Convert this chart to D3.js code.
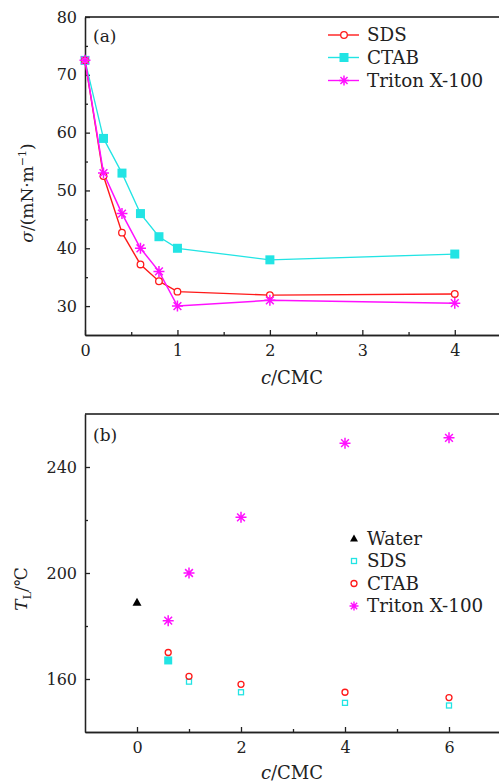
<!DOCTYPE html>
<html>
<head>
<meta charset="utf-8">
<script src="https://cdn.jsdelivr.net/npm/d3@7"></script>
<style>
  body { margin: 0; background: #fff; }
  svg { display: block; font-family: "DejaVu Serif", serif; }
  .axis text { font-family: "DejaVu Serif", serif; font-size: 16px; fill: #222; }
  .axis path, .axis line { stroke: #222; stroke-width: 1.3; }
</style>
</head>
<body>
<div id="chart"></div>
<script>
// panel (a): surface tension vs c/CMC
const concA = [0, 0.2, 0.4, 0.6, 0.8, 1, 2, 4];
const sdsA = [72.5, 52.5, 42.7, 37.2, 34.3, 32.5, 31.9, 32.1];
const ctabA = [72.5, 59, 53, 46, 42, 40, 38, 39];
const tritonA = [72.5, 53, 46, 40, 36, 30, 31, 30.5];
const xTicksA = [0, 1, 2, 3, 4];
const yTicksA = [30, 40, 50, 60, 70, 80];

// panel (b): T_L vs c/CMC
const waterX = [0];
const waterB = [189];
const concB = [0.6, 1, 2, 4, 6];
const sdsB = [167, 159, 155, 151, 150];
const ctabB = [170, 161, 158, 155, 153];
const tritonB = [182, 200, 221, 249, 251];
const xTicksB = [0, 2, 4, 6];
const yTicksB = [160, 200, 240];

const RED = '#ff1a1a';
const CYAN = '#22e4e4';
const MAGENTA = '#ff10ff';

const W = 499, H = 784;
const LEFT = 85, RIGHT = 501;

const svg = d3.select('#chart').append('svg').attr('width', W).attr('height', H);

function star(g, x, y, r, color, sw) {
  const d = r * Math.SQRT1_2;
  const p = `M${x - r},${y}L${x + r},${y}M${x},${y - r}L${x},${y + r}` +
    `M${x - d},${y - d}L${x + d},${y + d}M${x - d},${y + d}L${x + d},${y - d}`;
  g.append('path').attr('d', p).attr('stroke', color).attr('stroke-width', sw || 1.5).attr('fill', 'none');
}

function frame(g, x, y, top, bottom, xTicks, xMinor, yTicks, yMinor) {
  g.append('line').attr('x1', LEFT).attr('x2', RIGHT).attr('y1', top).attr('y2', top)
    .attr('stroke', '#111').attr('stroke-width', 1.5);
  g.append('line').attr('x1', RIGHT).attr('x2', RIGHT).attr('y1', top).attr('y2', bottom)
    .attr('stroke', '#111').attr('stroke-width', 1.5);

  g.append('g').attr('class', 'axis').attr('transform', `translate(0,${bottom})`)
    .call(d3.axisBottom(x).tickValues(xMinor).tickFormat('').tickSizeInner(-3).tickSizeOuter(0));
  g.append('g').attr('class', 'axis').attr('transform', `translate(0,${bottom})`)
    .call(d3.axisBottom(x).tickValues(xTicks).tickFormat(d3.format('d')).tickSizeInner(-5).tickSizeOuter(0).tickPadding(10));
  g.append('g').attr('class', 'axis').attr('transform', `translate(${LEFT},0)`)
    .call(d3.axisLeft(y).tickValues(yMinor).tickFormat('').tickSizeInner(-3).tickSizeOuter(0));
  g.append('g').attr('class', 'axis').attr('transform', `translate(${LEFT},0)`)
    .call(d3.axisLeft(y).tickValues(yTicks).tickFormat(d3.format('d')).tickSizeInner(-5).tickSizeOuter(0).tickPadding(8));
}

// ---------- panel (a) ----------
const topA = 17, botA = 335;
const xA = d3.scaleLinear().domain([0, 4.5]).range([LEFT, RIGHT]);
const yA = d3.scaleLinear().domain([25, 80]).range([botA, topA]);
const gA = svg.append('g');
frame(gA, xA, yA, topA, botA, xTicksA, [0.5, 1.5, 2.5, 3.5], yTicksA, [35, 45, 55, 65, 75]);

const lineA = d3.line().x(d => xA(d[0])).y(d => yA(d[1]));
const seriesA = [
  { name: 'CTAB', vals: ctabA, color: CYAN, w: 1.3 },
  { name: 'SDS', vals: sdsA, color: RED, w: 1.4 },
  { name: 'Triton X-100', vals: tritonA, color: MAGENTA, w: 1.5 }
];
seriesA.forEach(s => {
  const pts = concA.map((c, i) => [c, s.vals[i]]);
  gA.append('path').datum(pts).attr('d', lineA).attr('fill', 'none')
    .attr('stroke', s.color).attr('stroke-width', s.w);
});
// markers
concA.forEach((c, i) => {
  gA.append('rect').attr('x', xA(c) - 4.5).attr('y', yA(ctabA[i]) - 4.5)
    .attr('width', 9).attr('height', 9).attr('fill', CYAN);
});
concA.forEach((c, i) => {
  gA.append('circle').attr('cx', xA(c)).attr('cy', yA(sdsA[i])).attr('r', 3.3)
    .attr('fill', '#fff').attr('stroke', RED).attr('stroke-width', 1.3);
});
concA.forEach((c, i) => star(gA, xA(c), yA(tritonA[i]), 5.5, MAGENTA, 1.5));

gA.append('text').attr('x', 93).attr('y', 42).attr('font-size', 17).attr('fill', '#222').text('(a)');

// legend (a)
const legA = [
  { name: 'SDS', color: RED, y: 35 },
  { name: 'CTAB', color: CYAN, y: 57.5 },
  { name: 'Triton X-100', color: MAGENTA, y: 80.5 }
];
legA.forEach((l, i) => {
  gA.append('line').attr('x1', 328).attr('x2', 359).attr('y1', l.y).attr('y2', l.y)
    .attr('stroke', l.color).attr('stroke-width', 1.4);
  if (i === 0) {
    gA.append('circle').attr('cx', 344).attr('cy', l.y).attr('r', 3.3)
      .attr('fill', '#fff').attr('stroke', RED).attr('stroke-width', 1.3);
  } else if (i === 1) {
    gA.append('rect').attr('x', 339.5).attr('y', l.y - 4.5).attr('width', 9).attr('height', 9).attr('fill', CYAN);
  } else {
    star(gA, 344, l.y, 5, MAGENTA, 1.5);
  }
  gA.append('text').attr('x', 367).attr('y', l.y + 6).attr('font-size', 18.3).attr('fill', '#222').text(l.name);
});

// axis titles (a)
const xtA = gA.append('text').attr('x', 292).attr('y', 384).attr('text-anchor', 'middle')
  .attr('font-size', 18).attr('fill', '#222');
xtA.append('tspan').attr('font-style', 'italic').text('c');
xtA.append('tspan').text('/CMC');

const ytA = gA.append('text').attr('transform', 'translate(33,193) rotate(-90)')
  .attr('text-anchor', 'middle').attr('font-size', 17).attr('fill', '#222');
ytA.append('tspan').attr('font-style', 'italic').text('σ');
ytA.append('tspan').text('/(mN·m');
ytA.append('tspan').attr('dy', -7).attr('font-size', 11).text('−1');
ytA.append('tspan').attr('dy', 7).text(')');

// ---------- panel (b) ----------
const topB = 414, botB = 732;
const xB = d3.scaleLinear().domain([-1, 7]).range([LEFT, RIGHT]);
const yB = d3.scaleLinear().domain([140, 260]).range([botB, topB]);
const gB = svg.append('g');
frame(gB, xB, yB, topB, botB, xTicksB, [1, 3, 5], yTicksB, [180, 220]);

gB.selectAll('path.water').data(waterX).enter().append('path')
  .attr('d', (d, i) => {
    const x = xB(d), y = yB(waterB[i]);
    return `M${x - 4.5},${y + 3.5}L${x + 4.5},${y + 3.5}L${x},${y - 4.5}Z`;
  })
  .attr('fill', '#000');

concB.forEach((c, i) => {
  if (i === 0) {
    gB.append('rect').attr('x', xB(c) - 4).attr('y', yB(sdsB[i]) - 4)
      .attr('width', 8).attr('height', 8).attr('fill', CYAN);
  } else {
    gB.append('rect').attr('x', xB(c) - 2.5).attr('y', yB(sdsB[i]) - 2.5)
      .attr('width', 5).attr('height', 5).attr('fill', '#fff').attr('stroke', CYAN).attr('stroke-width', 1.3);
  }
});
concB.forEach((c, i) => {
  gB.append('circle').attr('cx', xB(c)).attr('cy', yB(ctabB[i])).attr('r', 3)
    .attr('fill', 'none').attr('stroke', RED).attr('stroke-width', 1.3);
});
concB.forEach((c, i) => star(gB, xB(c), yB(tritonB[i]), 5.5, MAGENTA, 1.5));

gB.append('text').attr('x', 93).attr('y', 441).attr('font-size', 17).attr('fill', '#222').text('(b)');

// legend (b)
const legB = [
  { name: 'Water', y: 538.5 },
  { name: 'SDS', y: 561 },
  { name: 'CTAB', y: 583.5 },
  { name: 'Triton X-100', y: 606 }
];
legB.forEach((l, i) => {
  const x = 354, y = l.y;
  if (i === 0) {
    gB.append('path').attr('d', `M${x - 4},${y + 3}L${x + 4},${y + 3}L${x},${y - 4}Z`).attr('fill', '#000');
  } else if (i === 1) {
    gB.append('rect').attr('x', x - 2.5).attr('y', y - 2.5).attr('width', 5).attr('height', 5)
      .attr('fill', '#fff').attr('stroke', CYAN).attr('stroke-width', 1.3);
  } else if (i === 2) {
    gB.append('circle').attr('cx', x).attr('cy', y).attr('r', 3)
      .attr('fill', 'none').attr('stroke', RED).attr('stroke-width', 1.3);
  } else {
    star(gB, x, y, 4.5, MAGENTA, 1.4);
  }
  gB.append('text').attr('x', 367).attr('y', y + 6).attr('font-size', 18.3).attr('fill', '#222').text(l.name);
});

// axis titles (b)
const xtB = gB.append('text').attr('x', 292).attr('y', 779).attr('text-anchor', 'middle')
  .attr('font-size', 18).attr('fill', '#222');
xtB.append('tspan').attr('font-style', 'italic').text('c');
xtB.append('tspan').text('/CMC');

const ytB = gB.append('text').attr('transform', 'translate(27,589) rotate(-90)')
  .attr('text-anchor', 'middle').attr('font-size', 17).attr('fill', '#222');
ytB.append('tspan').attr('font-style', 'italic').text('T');
ytB.append('tspan').attr('dy', 4).attr('font-size', 11).text('L');
ytB.append('tspan').attr('dy', -4).text('/℃');
</script>
</body>
</html>
